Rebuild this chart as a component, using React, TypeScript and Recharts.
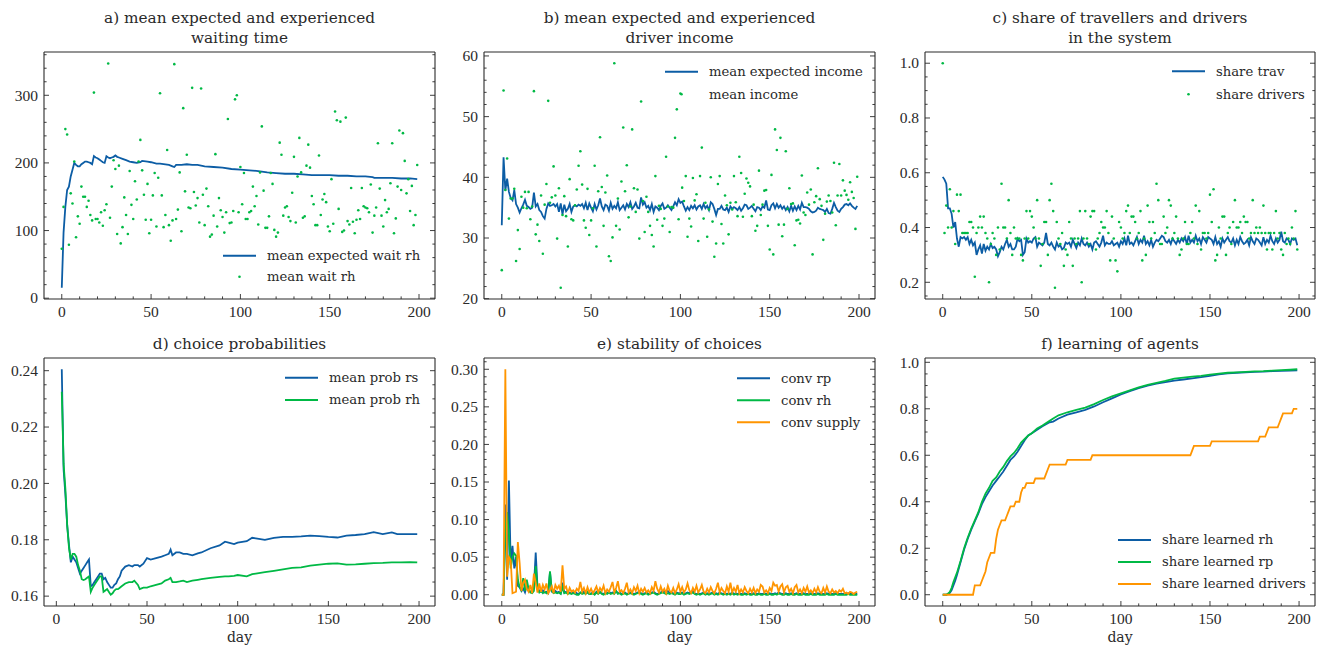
import React from 'react';
import { ComposedChart, Line, Scatter, XAxis, YAxis } from 'recharts';

const BLUE = '#0C5DA5';
const GREEN = '#00B945';
const ORANGE = '#FF9500';
const INK = '#2a2a2a';
const TEXT_FONT = '"DejaVu Serif", serif';
const NUM_FONT = '"Liberation Serif", serif';

// ---- a) waiting time ----
const meanWaitRh = [
  73, 135, 250, 242, 79, 155, 140, 202, 90, 121,
  110, 165, 150, 150, 135, 144, 123, 115, 304, 117,
  117, 112, 127, 107, 130, 139, 347, 119, 165, 204,
  191, 95, 196, 81, 105, 149, 123, 95, 188, 138,
  117, 173, 146, 202, 234, 189, 153, 116, 169, 96,
  116, 152, 185, 106, 178, 303, 152, 105, 123, 219,
  108, 85, 115, 346, 117, 131, 186, 99, 281, 158,
  212, 134, 133, 311, 157, 137, 148, 112, 310, 153,
  108, 162, 136, 91, 94, 122, 213, 106, 148, 130,
  120, 97, 127, 265, 111, 112, 129, 294, 300, 127,
  194, 139, 185, 117, 117, 127, 129, 165, 136, 151,
  109, 186, 254, 159, 104, 104, 121, 185, 169, 101,
  91, 97, 230, 212, 122, 134, 136, 120, 114, 156,
  209, 112, 180, 237, 186, 119, 121, 196, 227, 193,
  151, 139, 108, 108, 211, 123, 146, 154, 142, 106,
  99, 176, 110, 276, 263, 132, 261, 98, 100, 267,
  114, 109, 163, 113, 96, 116, 130, 117, 163, 136,
  134, 133, 127, 168, 97, 122, 134, 229, 162, 122,
  106, 145, 127, 132, 170, 229, 96, 118, 165, 248,
  160, 244, 203, 155, 176, 129, 166, 108, 123, 197,
];
const expectedWaitRh: [number, number][] = [
  [0, 15.5], [1, 97], [2, 135], [3, 160], [4, 165], [5, 180], [6, 190], [7, 200], [8, 197], [9, 195],
  [10, 195], [11, 198], [12, 200], [13, 202], [14, 202], [15, 201], [16, 200], [17, 198], [18, 210], [19, 208],
  [20, 207], [21, 205], [22, 203], [23, 201], [24, 200], [25, 210], [26, 208], [27, 207], [28, 208], [29, 209],
  [30, 211], [31, 209], [32, 208], [34, 206], [36, 204], [38, 202], [40, 201], [42, 200], [44, 201], [45, 203],
  [48, 202], [50, 201], [53, 199], [55, 199], [58, 198], [60, 197], [62, 195], [63, 194], [64, 197], [67, 197],
  [70, 198], [73, 197], [76, 197], [80, 195], [85, 194], [90, 193], [95, 191], [100, 190], [105, 189], [110, 188],
  [115, 186], [120, 185], [125, 184], [130, 184], [135, 183], [140, 182], [145, 182], [150, 182], [155, 181],
  [160, 181], [165, 180], [170, 180], [174, 179], [175, 178], [180, 178], [185, 178], [190, 177], [195, 177], [199, 176],
];

// ---- b) driver income ----
const meanIncome = [
  24.7, 54.3, 37.9, 43.1, 33.2, 36.5, 36.5, 38.1, 26.2, 31.3,
  28.2, 36.8, 35.0, 37.6, 34.9, 37.6, 33.1, 35.2, 54.2, 30.6,
  32.2, 29.5, 37.0, 27.4, 35.5, 38.9, 52.6, 35.8, 36.7, 41.8,
  37.0, 29.9, 38.2, 21.8, 33.8, 36.9, 33.6, 28.6, 39.7, 33.1,
  32.9, 35.4, 38.0, 41.9, 44.3, 38.8, 32.9, 31.7, 38.1, 30.5,
  32.9, 34.9, 41.9, 28.6, 37.7, 46.6, 38.4, 32.0, 37.5, 40.3,
  27.0, 26.2, 30.1, 58.8, 32.0, 36.5, 31.4, 39.3, 48.2, 37.7,
  42.0, 33.4, 35.2, 47.9, 38.2, 34.3, 38.0, 29.9, 52.5, 36.1,
  31.0, 36.8, 34.3, 32.0, 30.5, 28.6, 40.2, 33.0, 35.3, 34.8,
  32.0, 33.2, 43.4, 35.2, 31.0, 35.1, 35.0, 46.5, 51.2, 33.1,
  53.8, 38.3, 36.1, 40.2, 30.2, 33.2, 31.9, 39.9, 36.2, 37.2,
  29.5, 40.2, 44.9, 33.2, 35.8, 30.2, 34.7, 40.0, 32.7, 26.9,
  29.1, 38.9, 40.2, 32.3, 29.1, 37.0, 35.4, 30.6, 35.8, 34.7,
  40.2, 35.9, 33.6, 43.4, 40.7, 33.5, 37.3, 39.8, 39.1, 38.5,
  33.6, 35.5, 31.2, 32.0, 41.1, 33.8, 35.5, 37.8, 37.9, 32.0,
  28.1, 40.4, 27.3, 47.9, 44.5, 32.2, 46.5, 30.3, 32.2, 44.3,
  34.8, 38.2, 35.6, 35.7, 28.8, 32.9, 33.0, 32.4, 40.3, 34.2,
  33.8, 37.5, 35.5, 38.0, 27.3, 35.9, 36.9, 41.5, 36.4, 35.3,
  29.7, 34.0, 36.0, 37.0, 36.1, 34.2, 42.4, 32.1, 37.0, 42.2,
  37.0, 39.5, 37.8, 37.1, 36.3, 39.2, 37.6, 36.6, 31.5, 40.1,
];
const expectedIncome = [
  32.1, 43.3, 37.8, 39.8, 37.6, 36.6, 36.2, 37.9, 35.6, 35.0,
  34.2, 34.9, 35.5, 36.3, 35.3, 35.1, 34.8, 35.0, 37.5, 35.2,
  35.6, 34.6, 34.3, 33.6, 33.2, 34.8, 35.7, 35.3, 35.4, 35.6,
  35.2, 35.6, 34.3, 35.7, 33.9, 35.5, 34.4, 34.8, 35.6, 34.3,
  35.2, 35.4, 35.2, 35.5, 35.3, 35.6, 34.9, 35.8, 34.6, 35.7,
  35.0, 34.4, 35.6, 34.7, 35.4, 36.5, 35.2, 34.6, 35.5, 35.3,
  34.5, 35.8, 34.8, 35.3, 34.9, 35.9, 34.6, 35.0, 35.4, 34.7,
  35.6, 35.1, 35.9, 34.8, 35.2, 35.8, 35.0, 34.9, 36.7, 35.5,
  35.9, 35.0, 35.3, 34.6, 35.6, 34.3, 35.2, 35.0, 34.6, 35.3,
  35.7, 34.8, 35.0, 35.4, 35.0, 34.6, 35.2, 35.9, 35.4, 36.4,
  35.8, 36.0, 35.2, 34.5, 35.1, 34.6, 35.3, 34.9, 35.4, 34.7,
  35.2, 35.4, 34.8, 35.6, 34.9, 35.3, 34.6, 35.9, 35.6, 34.8,
  33.8, 34.8, 34.8, 35.3, 34.7, 34.6, 35.0, 34.3, 35.2, 34.8,
  35.1, 34.9, 34.6, 35.1, 34.5, 34.9, 35.5, 35.4, 34.8, 35.0,
  35.3, 34.8, 34.4, 35.1, 35.0, 34.6, 35.2, 35.0, 36.2, 34.7,
  34.6, 35.4, 35.7, 34.9, 35.6, 35.0, 35.4, 34.8, 35.2, 34.6,
  35.1, 34.4, 35.3, 34.5, 35.2, 34.6, 35.3, 34.7, 35.8, 35.1,
  35.1, 35.0, 34.8, 34.4, 34.2, 34.3, 34.5, 35.0, 34.8, 34.7,
  34.6, 34.3, 34.8, 34.1, 34.0, 34.8, 35.8, 35.1, 34.5, 34.3,
  34.8, 35.1, 35.5, 35.6, 35.4, 35.7, 35.3, 35.0, 34.8, 35.3,
];

// ---- c) shares ----
const shareDrivers = [
  1.0, 0.38, 0.48, 0.40, 0.54, 0.40, 0.46, 0.34, 0.52, 0.46,
  0.52, 0.38, 0.38, 0.38, 0.38, 0.42, 0.42, 0.40, 0.22, 0.38,
  0.40, 0.44, 0.40, 0.44, 0.38, 0.36, 0.20, 0.34, 0.38, 0.36,
  0.30, 0.40, 0.32, 0.56, 0.40, 0.40, 0.36, 0.50, 0.38, 0.30,
  0.40, 0.36, 0.36, 0.36, 0.30, 0.28, 0.36, 0.46, 0.36, 0.46,
  0.44, 0.40, 0.36, 0.50, 0.36, 0.26, 0.34, 0.42, 0.42, 0.30,
  0.50, 0.56, 0.46, 0.18, 0.42, 0.36, 0.34, 0.38, 0.26, 0.32,
  0.30, 0.42, 0.36, 0.26, 0.36, 0.34, 0.36, 0.46, 0.20, 0.36,
  0.46, 0.36, 0.34, 0.44, 0.46, 0.46, 0.32, 0.36, 0.38, 0.42,
  0.40, 0.40, 0.46, 0.38, 0.28, 0.44, 0.36, 0.28, 0.24, 0.42,
  0.40, 0.36, 0.38, 0.46, 0.48, 0.38, 0.44, 0.44, 0.42, 0.36,
  0.38, 0.46, 0.28, 0.36, 0.30, 0.48, 0.42, 0.36, 0.42, 0.38,
  0.56, 0.50, 0.34, 0.34, 0.44, 0.38, 0.40, 0.50, 0.48, 0.36,
  0.38, 0.44, 0.36, 0.30, 0.32, 0.36, 0.42, 0.34, 0.34, 0.38,
  0.42, 0.36, 0.48, 0.34, 0.46, 0.32, 0.38, 0.38, 0.36, 0.38,
  0.52, 0.42, 0.54, 0.28, 0.30, 0.40, 0.36, 0.44, 0.44, 0.30,
  0.38, 0.40, 0.34, 0.42, 0.50, 0.40, 0.40, 0.42, 0.38, 0.44,
  0.42, 0.42, 0.36, 0.38, 0.50, 0.38, 0.40, 0.38, 0.40, 0.38,
  0.48, 0.38, 0.32, 0.38, 0.38, 0.32, 0.38, 0.46, 0.36, 0.38,
  0.32, 0.30, 0.38, 0.34, 0.36, 0.34, 0.40, 0.36, 0.46, 0.32,
];
const shareTrav = [
  0.585, 0.575, 0.560, 0.470, 0.470, 0.450, 0.400, 0.420, 0.360, 0.330,
  0.365, 0.360, 0.365, 0.355, 0.365, 0.340, 0.355, 0.335, 0.345, 0.300,
  0.320, 0.335, 0.305, 0.340, 0.315, 0.330, 0.320, 0.340, 0.325, 0.330,
  0.320, 0.295, 0.310, 0.330, 0.320, 0.340, 0.355, 0.330, 0.340, 0.320,
  0.320, 0.330, 0.360, 0.350, 0.355, 0.300, 0.310, 0.360, 0.345, 0.350,
  0.345, 0.360, 0.365, 0.330, 0.345, 0.340, 0.335, 0.345, 0.380, 0.340,
  0.335, 0.345, 0.330, 0.320, 0.345, 0.330, 0.335, 0.320, 0.325, 0.345,
  0.340, 0.345, 0.330, 0.355, 0.340, 0.325, 0.345, 0.335, 0.360, 0.340,
  0.335, 0.345, 0.330, 0.340, 0.320, 0.345, 0.350, 0.340, 0.330, 0.345,
  0.370, 0.335, 0.345, 0.340, 0.340, 0.350, 0.335, 0.340, 0.345, 0.330,
  0.350, 0.340, 0.360, 0.335, 0.370, 0.340, 0.345, 0.335, 0.350, 0.365,
  0.340, 0.355, 0.345, 0.370, 0.340, 0.350, 0.335, 0.355, 0.330, 0.345,
  0.355, 0.350, 0.360, 0.370, 0.365, 0.350, 0.345, 0.355, 0.340, 0.360,
  0.350, 0.340, 0.355, 0.345, 0.360, 0.350, 0.365, 0.340, 0.370, 0.345,
  0.355, 0.345, 0.370, 0.350, 0.360, 0.340, 0.365, 0.355, 0.345, 0.365,
  0.360, 0.355, 0.340, 0.365, 0.340, 0.350, 0.330, 0.360, 0.345, 0.355,
  0.365, 0.350, 0.345, 0.360, 0.335, 0.355, 0.340, 0.365, 0.350, 0.340,
  0.345, 0.355, 0.335, 0.365, 0.350, 0.340, 0.360, 0.355, 0.345, 0.335,
  0.365, 0.340, 0.355, 0.345, 0.370, 0.350, 0.340, 0.360, 0.345, 0.355,
  0.385, 0.350, 0.345, 0.360, 0.355, 0.340, 0.360, 0.355, 0.360, 0.335,
];

// ---- d) choice probabilities ----
const meanProbRs: [number, number][] = [
  [3, 0.2405], [4, 0.205], [5, 0.196], [6, 0.185], [7, 0.178], [8, 0.172], [9, 0.174], [10, 0.173], [11, 0.172],
  [12, 0.170], [13, 0.168], [14, 0.169], [15, 0.170], [16, 0.171], [17, 0.172], [18, 0.173], [19, 0.1635],
  [20, 0.164], [21, 0.165], [22, 0.166], [23, 0.167], [24, 0.168], [25, 0.168], [26, 0.166], [27, 0.1665],
  [28, 0.165], [29, 0.164], [30, 0.163], [31, 0.163], [32, 0.164], [33, 0.1645], [34, 0.166], [35, 0.167],
  [36, 0.169], [38, 0.1705], [40, 0.171], [42, 0.1705], [43, 0.171], [45, 0.171], [46, 0.1705], [48, 0.1715],
  [50, 0.1735], [52, 0.173], [55, 0.1735], [58, 0.174], [60, 0.1745], [62, 0.175], [63, 0.1765], [64, 0.1745],
  [66, 0.1755], [68, 0.1755], [70, 0.175], [72, 0.175], [75, 0.1745], [78, 0.1752], [80, 0.1755], [85, 0.177],
  [90, 0.178], [93, 0.1793], [95, 0.179], [98, 0.1785], [100, 0.179], [105, 0.1795], [108, 0.1807], [110, 0.1805],
  [115, 0.180], [120, 0.1807], [125, 0.181], [130, 0.181], [135, 0.1812], [140, 0.1815], [145, 0.1813], [150, 0.181],
  [155, 0.1808], [160, 0.1815], [165, 0.1817], [170, 0.182], [175, 0.1827], [180, 0.182], [185, 0.1826], [188, 0.182],
  [190, 0.182], [195, 0.182], [199, 0.182],
];
const meanProbRh: [number, number][] = [
  [3, 0.2325], [4, 0.207], [5, 0.198], [6, 0.185], [7, 0.177], [8, 0.173], [9, 0.175], [10, 0.175], [11, 0.174],
  [12, 0.171], [13, 0.169], [14, 0.166], [15, 0.1657], [16, 0.166], [17, 0.1665], [18, 0.167], [19, 0.1615],
  [20, 0.163], [21, 0.164], [22, 0.165], [23, 0.166], [24, 0.167], [25, 0.167], [26, 0.1615], [27, 0.162],
  [28, 0.1625], [29, 0.1615], [30, 0.1605], [31, 0.161], [32, 0.162], [33, 0.1625], [34, 0.1625], [35, 0.163],
  [36, 0.1635], [38, 0.1645], [40, 0.165], [42, 0.165], [43, 0.1655], [45, 0.164], [46, 0.1625], [48, 0.163],
  [50, 0.163], [52, 0.1635], [55, 0.164], [58, 0.1645], [60, 0.1655], [62, 0.166], [63, 0.1665], [64, 0.165],
  [66, 0.165], [68, 0.1652], [70, 0.1655], [72, 0.165], [75, 0.1655], [78, 0.1658], [80, 0.166], [85, 0.1665],
  [90, 0.1668], [93, 0.167], [95, 0.167], [98, 0.1672], [100, 0.1675], [105, 0.167], [108, 0.1678], [110, 0.168],
  [115, 0.1685], [120, 0.169], [125, 0.1695], [130, 0.170], [135, 0.1702], [140, 0.1708], [145, 0.1712], [150, 0.1715],
  [155, 0.1716], [160, 0.1712], [165, 0.1713], [170, 0.1715], [175, 0.1717], [180, 0.1718], [185, 0.172], [188, 0.172],
  [190, 0.172], [195, 0.1721], [199, 0.172],
];

// ---- e) stability of choices ----
const convRp = [
  0, 0, 0.120, 0.020, 0.152, 0.040, 0.065, 0.035, 0.050, 0.012,
  0.010, 0.005, 0.008, 0.003, 0.012, 0.006, 0.004, 0.004, 0.010, 0.056,
  0.010, 0.005, 0.004, 0.006, 0.003, 0.004, 0.002, 0.030, 0.004, 0.003,
  0.005, 0.003, 0.004, 0.002, 0.016, 0.003, 0.004, 0.002, 0.003, 0.002,
  0.003, 0.004, 0.002, 0.001, 0.003, 0.002, 0.004, 0.002, 0.003, 0.001,
  0.002, 0.003, 0.001, 0.004, 0.002, 0.003, 0.002, 0.001, 0.003, 0.002,
  0.004, 0.002, 0.003, 0.002, 0.005, 0.002, 0.003, 0.001, 0.002, 0.003,
  0.001, 0.002, 0.003, 0.002, 0.001, 0.002, 0.003, 0.004, 0.002, 0.001,
  0.002, 0.003, 0.001, 0.002, 0.003, 0.004, 0.002, 0.001, 0.002, 0.003,
  0.005, 0.004, 0.003, 0.005, 0.002, 0.003, 0.002, 0.001, 0.003, 0.002,
  0.002, 0.003, 0.001, 0.002, 0.003, 0.002, 0.004, 0.005, 0.002, 0.001,
  0.002, 0.001, 0.002, 0.003, 0.001, 0.002, 0.001, 0.002, 0.003, 0.001,
  0.002, 0.001, 0.003, 0.002, 0.001, 0.002, 0.001, 0.002, 0.001, 0.003,
  0.001, 0.002, 0.001, 0.002, 0.001, 0.001, 0.002, 0.001, 0.002, 0.001,
  0.001, 0.002, 0.001, 0.001, 0.002, 0.001, 0.001, 0.002, 0.001, 0.001,
  0.002, 0.001, 0.001, 0.002, 0.001, 0.003, 0.002, 0.001, 0.001, 0.002,
  0.001, 0.001, 0.002, 0.001, 0.001, 0.002, 0.001, 0.001, 0.001, 0.002,
  0.001, 0.001, 0.001, 0.002, 0.001, 0.001, 0.001, 0.002, 0.001, 0.001,
  0.001, 0.001, 0.002, 0.001, 0.001, 0.001, 0.001, 0.002, 0.001, 0.001,
  0.001, 0.001, 0.001, 0.001, 0.002, 0.001, 0.001, 0.001, 0.001, 0.001,
];
const convRh = [
  0, 0, 0.090, 0.110, 0.080, 0.035, 0.050, 0.055, 0.052, 0.020,
  0.010, 0.006, 0.022, 0.005, 0.020, 0.008, 0.003, 0.002, 0.005, 0.038,
  0.008, 0.003, 0.005, 0.002, 0.004, 0.002, 0.005, 0.031, 0.005, 0.002,
  0.003, 0.002, 0.003, 0.001, 0.010, 0.002, 0.003, 0.001, 0.002, 0.001,
  0.002, 0.001, 0.000, 0.000, 0.003, 0.001, 0.002, 0.001, 0.004, 0.001,
  0.001, 0.002, 0.000, 0.003, 0.001, 0.004, 0.001, 0.000, 0.002, 0.001,
  0.003, 0.001, 0.002, 0.001, 0.005, 0.001, 0.002, 0.000, 0.001, 0.002,
  0.000, 0.001, 0.002, 0.001, 0.000, 0.001, 0.002, 0.003, 0.001, 0.000,
  0.001, 0.002, 0.000, 0.001, 0.002, 0.003, 0.001, 0.000, 0.001, 0.002,
  0.003, 0.002, 0.001, 0.002, 0.001, 0.002, 0.001, 0.000, 0.002, 0.001,
  0.001, 0.002, 0.000, 0.001, 0.002, 0.001, 0.002, 0.003, 0.001, 0.000,
  0.001, 0.000, 0.001, 0.002, 0.000, 0.001, 0.000, 0.001, 0.002, 0.000,
  0.001, 0.000, 0.002, 0.001, 0.000, 0.001, 0.000, 0.001, 0.000, 0.002,
  0.000, 0.001, 0.000, 0.001, 0.000, 0.000, 0.001, 0.000, 0.001, 0.000,
  0.000, 0.001, 0.000, 0.000, 0.001, 0.000, 0.000, 0.001, 0.000, 0.000,
  0.001, 0.000, 0.000, 0.001, 0.000, 0.002, 0.001, 0.000, 0.000, 0.001,
  0.000, 0.000, 0.001, 0.000, 0.000, 0.001, 0.000, 0.000, 0.000, 0.001,
  0.000, 0.000, 0.000, 0.001, 0.000, 0.000, 0.000, 0.001, 0.000, 0.000,
  0.000, 0.000, 0.001, 0.000, 0.000, 0.000, 0.000, 0.001, 0.000, 0.000,
  0.000, 0.000, 0.000, 0.000, 0.001, 0.000, 0.000, 0.000, 0.000, 0.000,
];
const convSupply = [
  0, 0, 0.300, 0.024, 0.050, 0.046, 0.002, 0.003, 0.004, 0.070,
  0.042, 0.005, 0.016, 0.020, 0.008, 0.004, 0.013, 0.002, 0.028, 0.016,
  0.003, 0.015, 0.004, 0.013, 0.007, 0.015, 0.002, 0.006, 0.011, 0.002,
  0.013, 0.008, 0.012, 0.004, 0.039, 0.008, 0.011, 0.002, 0.009, 0.004,
  0.006, 0.003, 0.008, 0.005, 0.017, 0.004, 0.009, 0.002, 0.010, 0.003,
  0.008, 0.002, 0.006, 0.011, 0.003, 0.009, 0.005, 0.012, 0.002, 0.007,
  0.004, 0.010, 0.017, 0.003, 0.009, 0.018, 0.004, 0.006, 0.002, 0.008,
  0.016, 0.003, 0.007, 0.002, 0.010, 0.005, 0.012, 0.002, 0.008, 0.004,
  0.009, 0.003, 0.006, 0.002, 0.010, 0.005, 0.018, 0.008, 0.003, 0.011,
  0.004, 0.008, 0.002, 0.012, 0.005, 0.003, 0.009, 0.002, 0.007, 0.014,
  0.004, 0.010, 0.003, 0.007, 0.015, 0.006, 0.002, 0.009, 0.004, 0.012,
  0.003, 0.007, 0.013, 0.004, 0.002, 0.008, 0.003, 0.010, 0.005, 0.002,
  0.008, 0.016, 0.003, 0.009, 0.005, 0.002, 0.011, 0.004, 0.016, 0.003,
  0.009, 0.004, 0.013, 0.002, 0.007, 0.003, 0.010, 0.005, 0.002, 0.008,
  0.003, 0.009, 0.002, 0.007, 0.004, 0.013, 0.011, 0.003, 0.006, 0.002,
  0.009, 0.005, 0.016, 0.012, 0.013, 0.004, 0.011, 0.014, 0.003, 0.010,
  0.012, 0.004, 0.008, 0.002, 0.010, 0.013, 0.003, 0.007, 0.002, 0.009,
  0.004, 0.011, 0.003, 0.006, 0.002, 0.008, 0.003, 0.010, 0.004, 0.002,
  0.009, 0.003, 0.011, 0.004, 0.002, 0.007, 0.003, 0.005, 0.002, 0.006,
  0.004, 0.008, 0.002, 0.003, 0.001, 0.004, 0.003, 0.001, 0.003, 0.004,
];

// ---- f) learning of agents ----
const learnedRh: [number, number][] = [
  [0, 0], [2, 0], [3, 0.003], [4, 0.008], [5, 0.02], [6, 0.04], [7, 0.06], [8, 0.085], [10, 0.14], [12, 0.195],
  [14, 0.24], [16, 0.28], [18, 0.315], [20, 0.35], [22, 0.39], [24, 0.42], [26, 0.445], [28, 0.47], [30, 0.49],
  [32, 0.51], [34, 0.53], [36, 0.555], [38, 0.58], [40, 0.595], [42, 0.615], [44, 0.64], [46, 0.665], [48, 0.685],
  [50, 0.695], [53, 0.71], [56, 0.725], [60, 0.742], [62, 0.745], [65, 0.758], [70, 0.775], [75, 0.785], [80, 0.795],
  [85, 0.81], [90, 0.828], [95, 0.845], [100, 0.862], [105, 0.876], [110, 0.889], [115, 0.9], [120, 0.908],
  [125, 0.915], [130, 0.921], [135, 0.926], [140, 0.931], [145, 0.936], [150, 0.942], [155, 0.948], [160, 0.952],
  [165, 0.955], [170, 0.957], [175, 0.959], [180, 0.96], [185, 0.962], [190, 0.963], [195, 0.964], [199, 0.965],
];
const learnedRp: [number, number][] = [
  [0, 0], [2, 0], [3, 0.005], [4, 0.012], [5, 0.03], [6, 0.055], [7, 0.075], [8, 0.095], [10, 0.145], [12, 0.2],
  [14, 0.245], [16, 0.285], [18, 0.32], [20, 0.355], [22, 0.4], [24, 0.435], [26, 0.46], [28, 0.49], [30, 0.505],
  [32, 0.53], [34, 0.55], [36, 0.575], [38, 0.595], [40, 0.61], [42, 0.63], [44, 0.655], [46, 0.67], [48, 0.685],
  [50, 0.695], [53, 0.715], [56, 0.728], [60, 0.748], [62, 0.758], [65, 0.772], [70, 0.785], [75, 0.795], [80, 0.805],
  [85, 0.82], [90, 0.838], [95, 0.853], [100, 0.866], [105, 0.879], [110, 0.892], [115, 0.903], [120, 0.912],
  [125, 0.92], [130, 0.93], [135, 0.934], [140, 0.938], [145, 0.942], [150, 0.947], [155, 0.951], [160, 0.955],
  [165, 0.957], [170, 0.959], [175, 0.961], [180, 0.962], [185, 0.964], [190, 0.966], [195, 0.968], [199, 0.97],
];
const learnedDrivers: [number, number][] = [
  [0, 0], [17, 0], [18, 0.04], [21, 0.04], [22, 0.06], [23, 0.08], [24, 0.10], [25, 0.14], [26, 0.16], [27, 0.18],
  [29, 0.18], [30, 0.24], [31, 0.28], [32, 0.30], [33, 0.32], [35, 0.32], [36, 0.34], [37, 0.36], [38, 0.38],
  [40, 0.38], [41, 0.40], [43, 0.40], [44, 0.44], [45, 0.46], [46, 0.46], [47, 0.48], [51, 0.48], [52, 0.50],
  [57, 0.50], [58, 0.52], [59, 0.54], [60, 0.56], [69, 0.56], [70, 0.58], [83, 0.58], [84, 0.60], [139, 0.60],
  [140, 0.62], [141, 0.64], [150, 0.64], [151, 0.66], [177, 0.66], [178, 0.68], [181, 0.68], [182, 0.70],
  [183, 0.72], [188, 0.72], [189, 0.74], [190, 0.76], [191, 0.78], [196, 0.78], [197, 0.80], [199, 0.80],
];

// ---- tick values ----
const dayTicks = [0, 50, 100, 150, 200];
const dayMinor = [10, 20, 30, 40, 60, 70, 80, 90, 110, 120, 130, 140, 160, 170, 180, 190];
const waitTicks = [0, 100, 200, 300];
const waitMinor = [20, 40, 60, 80, 120, 140, 160, 180, 220, 240, 260, 280, 320, 340, 360];
const incomeTicks = [20, 30, 40, 50, 60];
const incomeMinor = [22, 24, 26, 28, 32, 34, 36, 38, 42, 44, 46, 48, 52, 54, 56, 58];
const shareTicks = [0.2, 0.4, 0.6, 0.8, 1.0];
const shareMinor = [0.15, 0.25, 0.3, 0.35, 0.45, 0.5, 0.55, 0.65, 0.7, 0.75, 0.85, 0.9, 0.95];
const probTicks = [0.16, 0.18, 0.2, 0.22, 0.24];
const probMinor = [0.165, 0.17, 0.175, 0.185, 0.19, 0.195, 0.205, 0.21, 0.215, 0.225, 0.23, 0.235];
const convTicks = [0, 0.05, 0.1, 0.15, 0.2, 0.25, 0.3];
const convMinor = [0.01, 0.02, 0.03, 0.04, 0.06, 0.07, 0.08, 0.09, 0.11, 0.12, 0.13, 0.14, 0.16, 0.17, 0.18, 0.19, 0.21, 0.22, 0.23, 0.24, 0.26, 0.27, 0.28, 0.29, 0.31];
const learnTicks = [0, 0.2, 0.4, 0.6, 0.8, 1.0];
const learnMinor = [0.05, 0.1, 0.15, 0.25, 0.3, 0.35, 0.45, 0.5, 0.55, 0.65, 0.7, 0.75, 0.85, 0.9, 0.95];

const byDay = (v: number[]) => v.map((y, x) => ({ x, y }));
const byPair = (v: [number, number][]) => v.map(([x, y]) => ({ x, y }));

type Side = 'bottom' | 'top' | 'left' | 'right';

// ticks point inwards on all four sides, labels only on majors (bottom/left)
function makeTick(side: Side, major: number[], dec: number) {
  return (p: any) => {
    const v = Number(p.payload.value);
    const isMajor = major.some((m) => Math.abs(m - v) < 1e-9);
    const len = isMajor ? 5 : 2.6;
    const { x, y } = p;
    let l = { x1: x, x2: x, y1: y, y2: y };
    if (side === 'bottom') l = { x1: x, x2: x, y1: y, y2: y - len };
    if (side === 'top') l = { x1: x, x2: x, y1: y, y2: y + len };
    if (side === 'left') l = { x1: x, x2: x + len, y1: y, y2: y };
    if (side === 'right') l = { x1: x, x2: x - len, y1: y, y2: y };
    const label = v.toFixed(dec);
    return (
      <g>
        <line {...l} stroke={INK} strokeWidth={0.9} />
        {isMajor && side === 'bottom' && (
          <text x={x} y={y + 18} textAnchor="middle" fontFamily={NUM_FONT} fontSize={15.5} fill={INK}>
            {label}
          </text>
        )}
        {isMajor && side === 'left' && (
          <text x={x - 6} y={y} dy="0.34em" textAnchor="end" fontFamily={NUM_FONT} fontSize={15.5} fill={INK}>
            {label}
          </text>
        )}
      </g>
    );
  };
}

type PanelProps = {
  left: number;
  top: number;
  w: number;
  h: number;
  xd: [number, number];
  yd: [number, number];
  yMajor: number[];
  yMinor: number[];
  yDec: number;
  children: React.ReactNode;
};

const ML = 50;
const MR = 6;
const MT = 6;
const MB = 30;

function Panel({ left, top, w, h, xd, yd, yMajor, yMinor, yDec, children }: PanelProps) {
  const xTicks = [...dayTicks, ...dayMinor].sort((a, b) => a - b);
  const yTicks = [...yMajor, ...yMinor].sort((a, b) => a - b);
  const axisLine = { stroke: INK, strokeWidth: 1.1 };
  return (
    <div style={{ position: 'absolute', left: left - ML, top: top - MT }}>
      <ComposedChart width={w + ML + MR} height={h + MT + MB} margin={{ top: 0, right: 0, bottom: 0, left: 0 }}>
        <XAxis
          xAxisId={0}
          type="number"
          dataKey="x"
          domain={xd}
          allowDataOverflow
          ticks={xTicks}
          interval={0}
          height={MB}
          tickLine={false}
          tickSize={0}
          tickMargin={0}
          axisLine={axisLine}
          tick={makeTick('bottom', dayTicks, 0)}
        />
        <XAxis
          xAxisId="top"
          orientation="top"
          type="number"
          domain={xd}
          allowDataOverflow
          ticks={xTicks}
          interval={0}
          height={MT}
          tickLine={false}
          tickSize={0}
          tickMargin={0}
          axisLine={axisLine}
          tick={makeTick('top', dayTicks, 0)}
        />
        <YAxis
          yAxisId={0}
          type="number"
          dataKey="y"
          domain={yd}
          allowDataOverflow
          ticks={yTicks}
          interval={0}
          width={ML}
          tickLine={false}
          tickSize={0}
          tickMargin={0}
          axisLine={axisLine}
          tick={makeTick('left', yMajor, yDec)}
        />
        <YAxis
          yAxisId="right"
          orientation="right"
          type="number"
          domain={yd}
          allowDataOverflow
          ticks={yTicks}
          interval={0}
          width={MR}
          tickLine={false}
          tickSize={0}
          tickMargin={0}
          axisLine={axisLine}
          tick={makeTick('right', yMajor, yDec)}
        />
        {children}
      </ComposedChart>
    </div>
  );
}

const dot = (color: string) => (p: any) => <circle cx={p.cx} cy={p.cy} r={1.3} fill={color} />;

type LegendItem = { label: string; color: string; kind: 'line' | 'dot' };

function Legend({ x, y, gap, items }: { x: number; y: number; gap: number; items: LegendItem[] }) {
  return (
    <g>
      {items.map((it, i) => {
        const cy = y + i * gap;
        return (
          <g key={it.label}>
            {it.kind === 'line' ? (
              <line x1={x} x2={x + 33} y1={cy} y2={cy} stroke={it.color} strokeWidth={2} />
            ) : (
              <circle cx={x + 16.5} cy={cy} r={1.3} fill={it.color} />
            )}
            <text x={x + 44} y={cy} dy="0.33em" fontFamily={TEXT_FONT} fontSize={13.2} fill={INK}>
              {it.label}
            </text>
          </g>
        );
      })}
    </g>
  );
}

function Title({ cx, y, lines }: { cx: number; y: number; lines: string[] }) {
  return (
    <g>
      {lines.map((t, i) => (
        <text key={t} x={cx} y={y + i * 20} dy="0.33em" textAnchor="middle" fontFamily={TEXT_FONT} fontSize={15.3} fill={INK}>
          {t}
        </text>
      ))}
    </g>
  );
}

const DAYS_X: [number, number] = [-9.95, 208.95];
const PROB_X: [number, number] = [-6.8, 208.8];

export default function App() {
  const lw = 1.8;
  return (
    <div style={{ position: 'absolute', left: 0, top: 0, width: 1321, height: 645, background: '#fff', overflow: 'hidden' }}>
      <Panel left={44} top={52} w={391} h={247} xd={DAYS_X} yd={[-1.2, 364]} yMajor={waitTicks} yMinor={waitMinor} yDec={0}>
        <Scatter data={byDay(meanWaitRh)} dataKey="y" shape={dot(GREEN)} isAnimationActive={false} />
        <Line data={byPair(expectedWaitRh)} dataKey="y" stroke={BLUE} strokeWidth={lw} dot={false} isAnimationActive={false} />
      </Panel>
      <Panel left={484} top={52} w={391} h={247} xd={DAYS_X} yd={[19.95, 60.65]} yMajor={incomeTicks} yMinor={incomeMinor} yDec={0}>
        <Scatter data={byDay(meanIncome)} dataKey="y" shape={dot(GREEN)} isAnimationActive={false} />
        <Line data={byDay(expectedIncome)} dataKey="y" stroke={BLUE} strokeWidth={lw} dot={false} isAnimationActive={false} />
      </Panel>
      <Panel left={925} top={52} w={390} h={247} xd={DAYS_X} yd={[0.139, 1.041]} yMajor={shareTicks} yMinor={shareMinor} yDec={1}>
        <Scatter data={byDay(shareDrivers)} dataKey="y" shape={dot(GREEN)} isAnimationActive={false} />
        <Line data={byDay(shareTrav)} dataKey="y" stroke={BLUE} strokeWidth={lw} dot={false} isAnimationActive={false} />
      </Panel>
      <Panel left={44} top={358} w={391} h={248} xd={PROB_X} yd={[0.1565, 0.2445]} yMajor={probTicks} yMinor={probMinor} yDec={2}>
        <Line data={byPair(meanProbRs)} dataKey="y" stroke={BLUE} strokeWidth={lw} dot={false} isAnimationActive={false} />
        <Line data={byPair(meanProbRh)} dataKey="y" stroke={GREEN} strokeWidth={lw} dot={false} isAnimationActive={false} />
      </Panel>
      <Panel left={484} top={358} w={391} h={248} xd={DAYS_X} yd={[-0.015, 0.315]} yMajor={convTicks} yMinor={convMinor} yDec={2}>
        <Line data={byDay(convRp)} dataKey="y" stroke={BLUE} strokeWidth={lw} dot={false} isAnimationActive={false} />
        <Line data={byDay(convRh)} dataKey="y" stroke={GREEN} strokeWidth={lw} dot={false} isAnimationActive={false} />
        <Line data={byDay(convSupply)} dataKey="y" stroke={ORANGE} strokeWidth={lw} dot={false} isAnimationActive={false} />
      </Panel>
      <Panel left={925} top={358} w={390} h={248} xd={DAYS_X} yd={[-0.0485, 1.0185]} yMajor={learnTicks} yMinor={learnMinor} yDec={1}>
        <Line data={byPair(learnedRh)} dataKey="y" stroke={BLUE} strokeWidth={lw} dot={false} isAnimationActive={false} />
        <Line data={byPair(learnedRp)} dataKey="y" stroke={GREEN} strokeWidth={lw} dot={false} isAnimationActive={false} />
        <Line data={byPair(learnedDrivers)} dataKey="y" stroke={ORANGE} strokeWidth={lw} dot={false} isAnimationActive={false} />
      </Panel>

      <svg width={1321} height={645} style={{ position: 'absolute', left: 0, top: 0, pointerEvents: 'none' }}>
        <Title cx={239.5} y={18.3} lines={['a) mean expected and experienced', 'waiting time']} />
        <Title cx={679.5} y={18.3} lines={['b) mean expected and experienced', 'driver income']} />
        <Title cx={1120} y={18.3} lines={['c) share of travellers and drivers', 'in the system']} />
        <Title cx={239.5} y={344} lines={['d) choice probabilities']} />
        <Title cx={679.5} y={344} lines={['e) stability of choices']} />
        <Title cx={1120} y={344} lines={['f) learning of agents']} />

        <Legend x={223} y={255.7} gap={21} items={[
          { label: 'mean expected wait rh', color: BLUE, kind: 'line' },
          { label: 'mean wait rh', color: GREEN, kind: 'dot' },
        ]} />
        <Legend x={665} y={71.7} gap={22.6} items={[
          { label: 'mean expected income', color: BLUE, kind: 'line' },
          { label: 'mean income', color: GREEN, kind: 'dot' },
        ]} />
        <Legend x={1172} y={71.3} gap={23} items={[
          { label: 'share trav', color: BLUE, kind: 'line' },
          { label: 'share drivers', color: GREEN, kind: 'dot' },
        ]} />
        <Legend x={285} y={377.7} gap={22.3} items={[
          { label: 'mean prob rs', color: BLUE, kind: 'line' },
          { label: 'mean prob rh', color: GREEN, kind: 'line' },
        ]} />
        <Legend x={737} y={378.3} gap={22} items={[
          { label: 'conv rp', color: BLUE, kind: 'line' },
          { label: 'conv rh', color: GREEN, kind: 'line' },
          { label: 'conv supply', color: ORANGE, kind: 'line' },
        ]} />
        <Legend x={1118} y={540} gap={22} items={[
          { label: 'share learned rh', color: BLUE, kind: 'line' },
          { label: 'share learned rp', color: GREEN, kind: 'line' },
          { label: 'share learned drivers', color: ORANGE, kind: 'line' },
        ]} />

        {[239.5, 679.5, 1120].map((cx) => (
          <text key={cx} x={cx} y={637} dy="0.33em" textAnchor="middle" fontFamily={TEXT_FONT} fontSize={14} fill={INK}>
            day
          </text>
        ))}
      </svg>
    </div>
  );
}
